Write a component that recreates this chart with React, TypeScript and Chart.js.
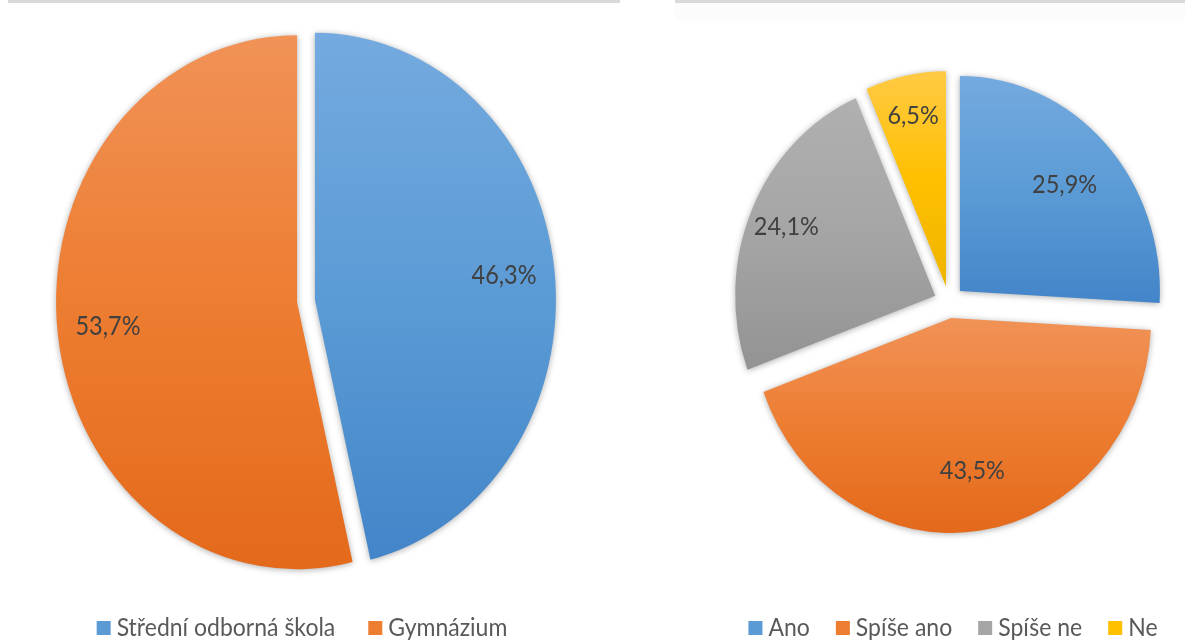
import React, { useEffect, useRef } from 'react';
import { Chart, registerables } from 'chart.js';

Chart.register(...registerables);

// ---- data ----
const schoolLabels = ['Střední odborná škola', 'Gymnázium'];
const schoolValues = [46.3, 53.7];

const answerLabels = ['Ano', 'Spíše ano', 'Spíše ne', 'Ne'];
const answerValues = [25.9, 43.5, 24.1, 6.5];

// ---- styles ----
const FONT = 'Lato, "Open Sans", sans-serif';
const BLUE = ['#74aadf', '#5b9bd5', '#4385c9'];
const ORANGE = ['#f19257', '#ed7d31', '#e4691b'];
const GRAY = ['#b0b0b0', '#a5a5a5', '#939393'];
const GOLD = ['#ffca45', '#ffc000', '#f0b400'];

type Look = {
  k: number;
  explode: number[];
  labelFrac: number[];
  stops: string[][];
  legendCenterX: number;
  legendY: number;
  legendGap: number;
  lineFrom: number;
  lineTo: number;
  band: boolean;
};

function fmt(v: number) {
  return v.toFixed(1).replace('.', ',') + '%';
}

function containsAngle(a: number, s: number, e: number) {
  for (let n = -2; n <= 2; n++) {
    const t = a + n * 2 * Math.PI;
    if (t >= s && t <= e) return true;
  }
  return false;
}

function makePlugin(look: Look) {
  return {
    id: 'excelPie',
    beforeDraw(chart: any) {
      const ctx = chart.ctx;
      ctx.save();
      if (look.band) {
        ctx.fillStyle = '#fcfcfc';
        ctx.fillRect(look.lineFrom, 3, look.lineTo - look.lineFrom, 18);
      }
      ctx.fillStyle = '#d9d9d9';
      ctx.fillRect(look.lineFrom, 0, look.lineTo - look.lineFrom, 3);
      ctx.restore();
    },
    beforeDatasetDraw(chart: any, args: any) {
      const ctx = chart.ctx;
      const meta = args.meta;
      meta.data.forEach((arc: any, i: number) => {
        const { x, y, startAngle, endAngle, outerRadius } = arc.getProps(
          ['x', 'y', 'startAngle', 'endAngle', 'outerRadius'],
          true
        );
        const mid = (startAngle + endAngle) / 2;
        const d = look.explode[i] || 0;
        const R = outerRadius;
        let minY = Math.min(y, y + R * Math.sin(startAngle), y + R * Math.sin(endAngle));
        let maxY = Math.max(y, y + R * Math.sin(startAngle), y + R * Math.sin(endAngle));
        if (containsAngle(-Math.PI / 2, startAngle, endAngle)) minY = y - R;
        if (containsAngle(Math.PI / 2, startAngle, endAngle)) maxY = y + R;
        ctx.save();
        ctx.translate(x, y);
        ctx.scale(1, look.k);
        ctx.translate(Math.cos(mid) * d, Math.sin(mid) * d);
        ctx.translate(-x, -y);
        const st = look.stops[i];
        const g = ctx.createLinearGradient(0, minY, 0, maxY);
        g.addColorStop(0, st[0]);
        g.addColorStop(0.5, st[1]);
        g.addColorStop(1, st[2]);
        ctx.shadowColor = 'rgba(0,0,0,0.32)';
        ctx.shadowBlur = 6;
        ctx.shadowOffsetX = 0;
        ctx.shadowOffsetY = 1;
        const orig = arc.options;
        arc.options = Object.assign({}, orig, { backgroundColor: g, borderWidth: 0 });
        arc.draw(ctx);
        arc.options = orig;
        ctx.restore();
      });
      return false;
    },
    afterDatasetsDraw(chart: any) {
      const ctx = chart.ctx;
      const meta = chart.getDatasetMeta(0);
      const values = chart.data.datasets[0].data as number[];
      ctx.save();
      ctx.fillStyle = '#404040';
      ctx.font = `23.5px ${FONT}`;
      ctx.textAlign = 'center';
      ctx.textBaseline = 'middle';
      meta.data.forEach((arc: any, i: number) => {
        const { x, y, startAngle, endAngle, outerRadius } = arc.getProps(
          ['x', 'y', 'startAngle', 'endAngle', 'outerRadius'],
          true
        );
        const mid = (startAngle + endAngle) / 2;
        const r = (look.explode[i] || 0) + look.labelFrac[i] * outerRadius;
        const px = x + Math.cos(mid) * r;
        const py = y + Math.sin(mid) * r * look.k;
        ctx.save();
        ctx.translate(px, py);
        ctx.scale(1, look.k);
        ctx.fillText(fmt(values[i]), 0, 0);
        ctx.restore();
      });
      ctx.restore();
    },
    afterDraw(chart: any) {
      const ctx = chart.ctx;
      const labels = chart.data.labels as string[];
      ctx.save();
      ctx.font = `23px ${FONT}`;
      const box = 14;
      const gap = 6;
      const itemGap = look.legendGap;
      const widths = labels.map((l) => ctx.measureText(l).width);
      const total =
        widths.reduce((a, w) => a + box + gap + w, 0) + itemGap * (labels.length - 1);
      let cx = look.legendCenterX - total / 2;
      const cy = look.legendY;
      labels.forEach((l, i) => {
        ctx.fillStyle = look.stops[i][1];
        ctx.fillRect(cx, cy - box / 2, box, box);
        ctx.save();
        ctx.translate(cx + box + gap, cy);
        ctx.scale(1, look.k);
        ctx.fillStyle = '#595959';
        ctx.textAlign = 'left';
        ctx.textBaseline = 'middle';
        ctx.fillText(l, 0, 0);
        ctx.restore();
        cx += box + gap + widths[i] + itemGap;
      });
      ctx.restore();
    },
  };
}

function PieCanvas(props: {
  labels: string[];
  values: number[];
  look: Look;
  radius: number;
  padding: { left: number; right: number; top: number; bottom: number };
  width: number;
  height: number;
  left: number;
}) {
  const ref = useRef<HTMLCanvasElement | null>(null);
  useEffect(() => {
    if (!ref.current) return;
    const chart = new Chart(ref.current, {
      type: 'pie',
      data: {
        labels: props.labels,
        datasets: [
          {
            data: props.values,
            backgroundColor: props.look.stops.map((s) => s[1]),
            borderWidth: 0,
            clip: false as any,
          },
        ],
      },
      options: {
        responsive: false,
        animation: false,
        devicePixelRatio: 1,
        events: [],
        radius: props.radius,
        layout: { padding: props.padding },
        plugins: {
          legend: { display: false },
          tooltip: { enabled: false },
          title: { display: false },
        },
      } as any,
      plugins: [makePlugin(props.look) as any],
    });
    return () => chart.destroy();
  }, []);
  return (
    <canvas
      ref={ref}
      width={props.width}
      height={props.height}
      style={{
        position: 'absolute',
        left: props.left,
        top: 0,
        width: props.width,
        height: props.height,
      }}
    />
  );
}

export default function App() {
  const leftLook: Look = {
    k: 1.108,
    explode: [9, 9],
    labelFrac: [0.79, 0.79],
    stops: [BLUE, ORANGE],
    legendCenterX: 302,
    legendY: 628,
    legendGap: 33,
    lineFrom: 8,
    lineTo: 620,
    band: false,
  };
  const rightLook: Look = {
    k: 1.075,
    explode: [15, 15, 15, 15],
    labelFrac: [0.72, 0.72, 0.81, 0.81],
    stops: [BLUE, ORANGE, GRAY, GOLD],
    legendCenterX: 333,
    legendY: 628,
    legendGap: 26,
    lineFrom: 55,
    lineTo: 565,
    band: true,
  };
  return (
    <div
      style={{
        position: 'absolute',
        left: 0,
        top: 0,
        width: 1185,
        height: 643,
        background: '#ffffff',
        overflow: 'hidden',
      }}
    >
      <PieCanvas
        labels={schoolLabels}
        values={schoolValues}
        look={leftLook}
        radius={241}
        padding={{ left: 0, right: 8, top: 0, bottom: 41 }}
        width={620}
        height={643}
        left={0}
      />
      <PieCanvas
        labels={answerLabels}
        values={answerValues}
        look={rightLook}
        radius={200}
        padding={{ left: 93, right: 0, top: 0, bottom: 39 }}
        width={565}
        height={643}
        left={620}
      />
    </div>
  );
}
